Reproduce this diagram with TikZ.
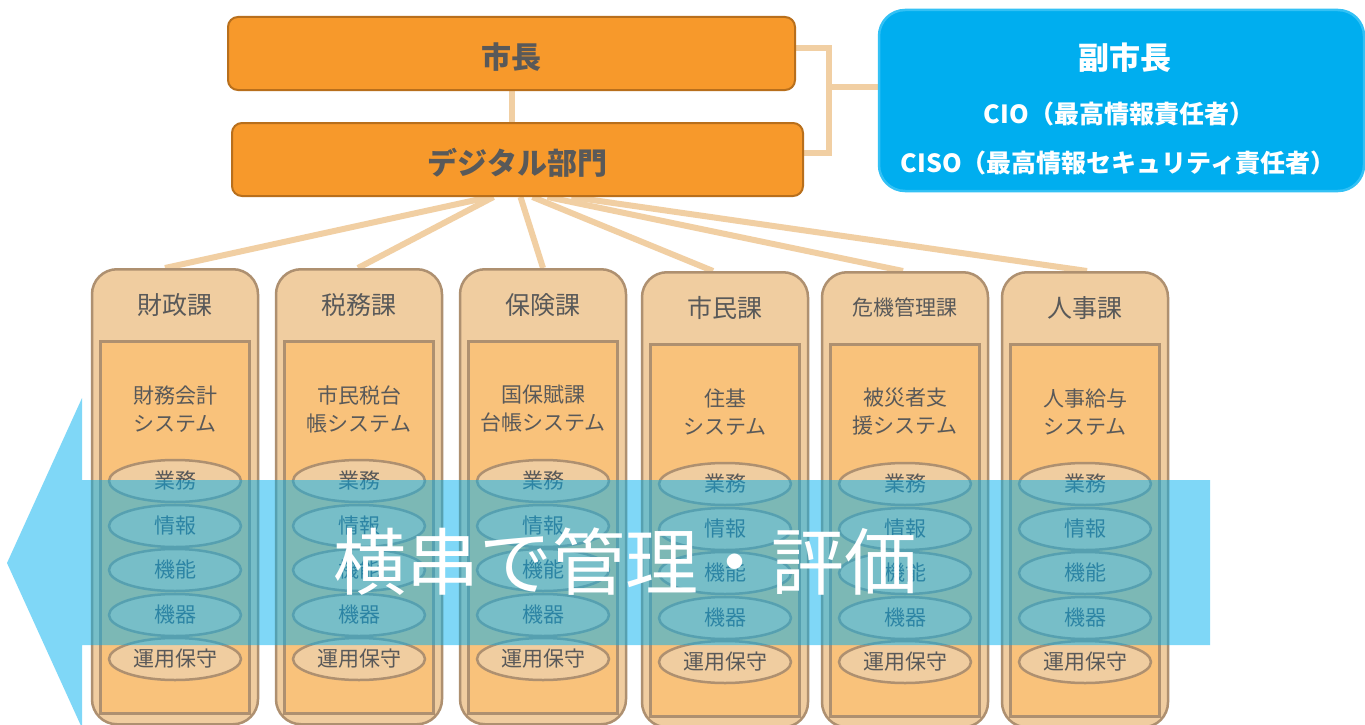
\documentclass[tikz,border=0pt]{standalone}
\usepackage{fontspec}
\setmainfont{Noto Sans CJK JP}
\usetikzlibrary{shapes.geometric}
\definecolor{txt}{HTML}{595959}
\definecolor{orfill}{HTML}{F7992B}
\definecolor{ordraw}{HTML}{B86F1C}
\definecolor{tanfill}{HTML}{F0CDA0}
\definecolor{tandraw}{HTML}{AE9070}
\definecolor{innerfill}{HTML}{F9C27B}
\definecolor{connc}{HTML}{F1CFA3}
\definecolor{skyfill}{HTML}{00AEEF}
\definecolor{skydraw}{HTML}{33C1F5}
\definecolor{bandc}{HTML}{00B0F0}
\pgfdeclarelayer{bg}
\pgfdeclarelayer{paper}
\pgfsetlayers{paper,bg,main}
\begin{document}
\begin{tikzpicture}[x=1pt,y=-1pt,
  topbox/.style={draw=ordraw, line width=2pt, fill=orfill, rounded corners=10pt, inner sep=0pt},
  toptext/.style={text=txt, inner sep=0pt, font=\fontsize{30}{36}\selectfont\bfseries},
  vicebox/.style={draw=skydraw, line width=2.5pt, fill=skyfill, rounded corners=26pt, inner sep=0pt},
  vicetext/.style={text=white, inner sep=0pt, font=\fontsize{25}{28}\selectfont\bfseries},
  colbox/.style={draw=tandraw, line width=2.5pt, fill=tanfill, rounded corners=25pt, inner sep=0pt, minimum width=166pt, minimum height=455pt, anchor=north},
  innerbox/.style={draw=tandraw, line width=2.5pt, fill=innerfill, inner sep=0pt, minimum width=149pt, minimum height=372pt, anchor=north},
  titletext/.style={text=txt, inner sep=0pt},
  systext/.style={text=txt, inner sep=0pt, align=center, font=\fontsize{21}{28}\selectfont},
  oval/.style={ellipse, draw=tandraw, line width=2.5pt, fill=tanfill, minimum width=132pt, minimum height=42pt, inner sep=0pt, text=txt, font=\fontsize{21}{21}\selectfont},
  connline/.style={draw=connc, line width=6pt}
]
\useasboundingbox (0,0) rectangle (1365,725);
\begin{pgfonlayer}{paper}
\fill[white] (0,0) rectangle (1365,725);
\end{pgfonlayer}

% top boxes
\node[topbox, minimum width=567pt, minimum height=73pt] (mayor) at (511.5,53.5) {};
\node[toptext] (mayort) at (511.5,57) {市長};
\node[topbox, minimum width=571pt, minimum height=73pt] (dig) at (517.5,159.5) {};
\node[toptext] (digt) at (517.5,163) {デジタル部門};
\node[vicebox, minimum width=485pt, minimum height=181pt] (vice) at (1121.5,100.5) {};
\node[vicetext, font=\fontsize{31}{34}\selectfont\bfseries] (v1) at (1125,58) {副市長};
\node[vicetext] (v2) at (1119,114) {CIO（最高情報責任者）};
\node[vicetext] (v3) at (1118,163) {CISO（最高情報セキュリティ責任者）};

% columns
\foreach \i/\cx/\dy/\tsz/\ttl/\sa/\sb in {
  1/175/0/25/財政課/財務会計/システム,
  2/359/0/25/税務課/市民税台/帳システム,
  3/543/0/25/保険課/国保賦課/台帳システム,
  4/725/3/25/市民課/住基/システム,
  5/905/3/21/危機管理課/被災者支/援システム,
  6/1085/3/25/人事課/人事給与/システム}{
  \node[colbox] (c\i) at (\cx,268+\dy) {};
  \node[innerbox] (in\i) at (\cx,340+\dy) {};
  \node[titletext, font=\fontsize{\tsz}{\tsz}\selectfont] (t\i) at (\cx,305+\dy) {\ttl};
  \node[systext] (s\i) at (\cx,409+\dy) {\sa\\\sb};
  \node[oval] (g\i-1) at (\cx,481+\dy) {業務};
  \node[oval] (g\i-2) at (\cx,526+\dy) {情報};
  \node[oval] (g\i-3) at (\cx,570+\dy) {機能};
  \node[oval] (g\i-4) at (\cx,615+\dy) {機器};
  \node[oval] (g\i-5) at (\cx,659+\dy) {運用保守};
}

% connectors
\begin{pgfonlayer}{bg}
\draw[connline] (mayor.south) -- (mayor.south |- dig.north);
\draw[connline] ([yshift=5.5pt]mayor.east) -- ++(33,0) |- ([yshift=6.5pt]dig.east);
\coordinate (br) at (828,87);
\draw[connline] (br) -- (br -| vice.west);
\draw[connline] ([xshift=-28pt]dig.south) -- ([xshift=-10pt]c1.north);
\draw[connline] ([xshift=-24pt]dig.south) -- ([xshift=-1pt]c2.north);
\draw[connline] ([xshift=3pt]dig.south) -- ([xshift=0pt]c3.north);
\draw[connline] ([xshift=15pt]dig.south) -- ([xshift=-12pt]c4.north);
\draw[connline] ([xshift=30pt]dig.south) -- ([xshift=-2pt]c5.north);
\draw[connline] ([xshift=54pt]dig.south) -- ([xshift=2pt]c6.north);
\end{pgfonlayer}

% horizontal arrow
\fill[bandc, fill opacity=0.5] (1210,480) -- (82,480) -- (82,398) -- (7,563) -- (82,728) -- (82,645) -- (1210,645) -- cycle;
\node[text=white, inner sep=0pt, font=\fontsize{73}{80}\selectfont] (big) at (625,562) {横串で管理・評価};
\end{tikzpicture}
\end{document}
